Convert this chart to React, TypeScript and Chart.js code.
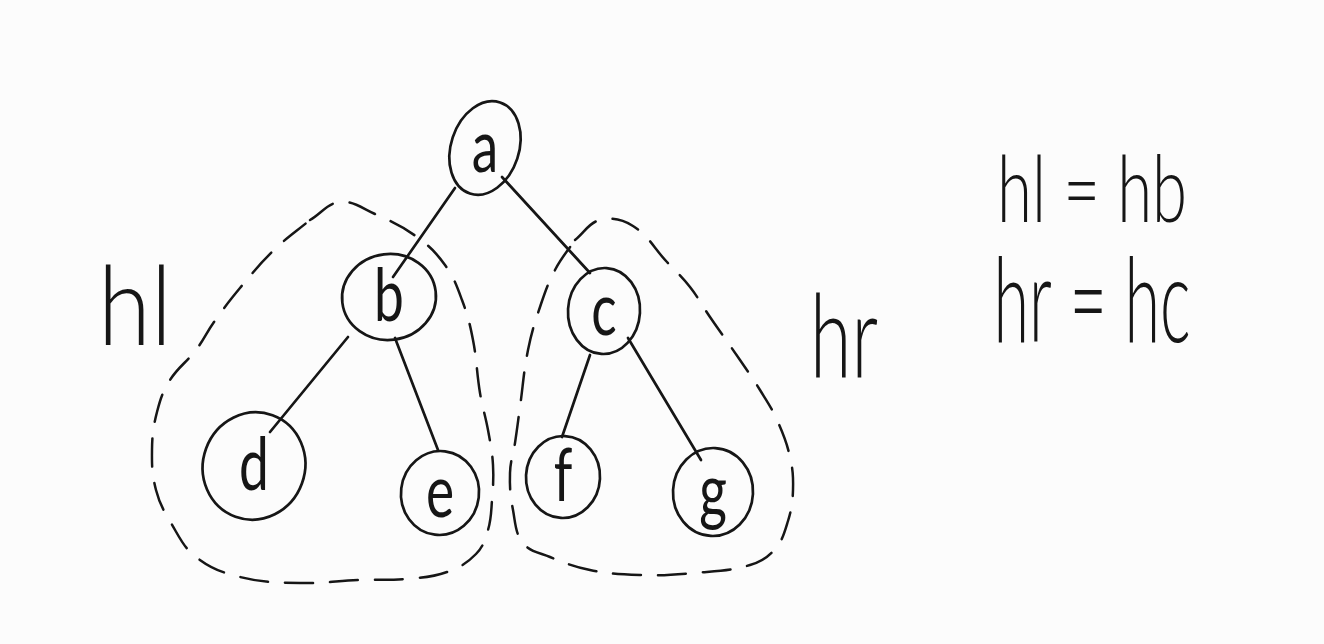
import React, { useEffect, useRef } from "react";
import { Chart, registerables } from "chart.js";

Chart.register(...registerables);

// ---------- data (diagram coordinates: x to the right, y downward) ----------
const nodeLabels = ["a", "b", "c", "d", "e", "f", "g"];
const nodeX = [485, 389, 604, 254, 440, 563, 713];
const nodeY = [148, 297, 311, 466, 493, 477, 492];

// tree edges, start and end points
const edgeFrom = [[455, 188], [502, 177], [348, 337], [395, 338], [590, 355], [628, 338]];
const edgeTo = [[393, 277], [590, 273], [270, 432], [438, 450], [562, 437], [701, 460]];

// dashed outlines of the two sub-trees
const leftOutline = [
  [310, 220], [340, 202], [375, 214], [417, 237], [445, 265], [462, 300], [473, 340],
  [480, 393], [488, 430], [493, 465], [492, 500], [488, 530], [476, 554], [447, 572],
  [405, 579], [360, 580], [300, 583], [240, 577], [196, 557], [171, 523], [156, 490],
  [152, 450], [157, 412], [170, 380], [196, 350], [214, 322], [240, 288], [274, 250], [310, 220],
];
const rightOutline = [
  [575, 240], [600, 220], [633, 226], [667, 262], [690, 287], [710, 317], [740, 360],
  [760, 390], [777, 420], [790, 457], [793, 490], [788, 521], [775, 549], [750, 565],
  [693, 573], [640, 575], [590, 570], [550, 557], [523, 543], [513, 510], [510, 473],
  [515, 443], [520, 407], [528, 350], [540, 307], [555, 270], [575, 240],
];

// handwritten notes
const noteTexts = ["hl", "hr", "hl = hb", "hr = hc"];
const noteX = [135, 844, 1092, 1092];
const noteY = [345, 378, 222, 342];

// ---------- styles ----------
const INK = "#161616";
const PAPER = "#fcfcfc";
const FONT = "Lato, 'Open Sans', Roboto, 'DejaVu Sans', sans-serif";
const NODE_RX = [34, 47, 36, 51, 39, 37, 40];
const NODE_RY = [48, 43, 43, 54, 42, 41, 44];
const NODE_ROT = [0.32, -0.12, 0.06, 0.35, 0.12, 0.05, 0.05];
const NODE_FONT = 74;
const NODE_FONT_SX = 0.72;
const NODE_LABEL_DY = 24;
const NOTE_FONT = [110, 116, 93, 118];
const NOTE_WIDTH = [74, 68, 190, 197];

const W = 1324;
const H = 644;

const sketchPlugin = {
  id: "sketch",
  beforeDraw(chart: any) {
    const { ctx, width, height } = chart;
    ctx.save();
    ctx.fillStyle = PAPER;
    ctx.fillRect(0, 0, width, height);
    ctx.restore();
  },
  afterDatasetsDraw(chart: any) {
    const ctx = chart.ctx as CanvasRenderingContext2D;
    const xs = chart.scales.x;
    const ys = chart.scales.y;
    const idx = chart.data.datasets.findIndex((d: any) => d.label === "nodes");
    const meta = chart.getDatasetMeta(idx);
    ctx.save();
    ctx.strokeStyle = INK;
    ctx.fillStyle = INK;
    ctx.lineWidth = 2.7;
    ctx.lineJoin = "round";
    ctx.lineCap = "round";
    meta.data.forEach((pt: any, i: number) => {
      const rx = Math.abs(xs.getPixelForValue(nodeX[i] + NODE_RX[i]) - pt.x);
      const ry = Math.abs(ys.getPixelForValue(nodeY[i] + NODE_RY[i]) - pt.y);
      ctx.beginPath();
      ctx.ellipse(pt.x, pt.y, rx, ry, NODE_ROT[i], 0, Math.PI * 2);
      ctx.stroke();
      ctx.save();
      ctx.translate(pt.x, pt.y + NODE_LABEL_DY);
      ctx.scale(NODE_FONT_SX, 1);
      ctx.font = `400 ${NODE_FONT}px ${FONT}`;
      ctx.textAlign = "center";
      ctx.textBaseline = "alphabetic";
      ctx.fillText(nodeLabels[i], 0, 0);
      ctx.restore();
    });
    noteTexts.forEach((t, i) => {
      const px = xs.getPixelForValue(noteX[i]);
      const py = ys.getPixelForValue(noteY[i]);
      ctx.save();
      ctx.font = `300 ${NOTE_FONT[i]}px ${FONT}`;
      const w = ctx.measureText(t).width;
      ctx.translate(px, py);
      ctx.scale(NOTE_WIDTH[i] / w, 1);
      ctx.textAlign = "center";
      ctx.textBaseline = "alphabetic";
      ctx.fillText(t, 0, 0);
      ctx.restore();
    });
    ctx.restore();
  },
};

const toPoints = (arr: number[][]) => arr.map(([x, y]) => ({ x, y }));

export default function App() {
  const ref = useRef<HTMLCanvasElement | null>(null);

  useEffect(() => {
    document.body.style.margin = "0";
    document.body.style.overflow = "hidden";
    const canvas = ref.current;
    if (!canvas) return;

    const edgeSets = edgeFrom.map((p, i) => ({
      label: `edge-${i}`,
      data: toPoints([p, edgeTo[i]]),
      showLine: true,
      borderColor: INK,
      borderWidth: 2.7,
      pointRadius: 0,
      borderCapStyle: "round" as const,
    }));
    const outlineSets = [leftOutline, rightOutline].map((o, i) => ({
      label: `outline-${i}`,
      data: toPoints(o),
      showLine: true,
      borderColor: INK,
      borderWidth: 2.5,
      borderDash: [28, 17],
      tension: 0.4,
      pointRadius: 0,
      borderCapStyle: "round" as const,
    }));

    const chart = new Chart(canvas, {
      type: "scatter",
      data: {
        datasets: [
          ...outlineSets,
          ...edgeSets,
          {
            label: "nodes",
            data: nodeX.map((x, i) => ({ x, y: nodeY[i] })),
            pointRadius: 0,
            showLine: false,
          },
        ],
      },
      options: {
        animation: false,
        responsive: true,
        maintainAspectRatio: false,
        events: [],
        layout: { padding: 0 },
        plugins: { legend: { display: false }, tooltip: { enabled: false }, title: { display: false } },
        scales: {
          x: { type: "linear", min: 0, max: W, display: false },
          y: { type: "linear", min: 0, max: H, reverse: true, display: false },
        },
      },
      plugins: [sketchPlugin],
    });
    return () => chart.destroy();
  }, []);

  return (
    <div style={{ width: W, height: H, position: "relative" }}>
      <canvas ref={ref} />
    </div>
  );
}
